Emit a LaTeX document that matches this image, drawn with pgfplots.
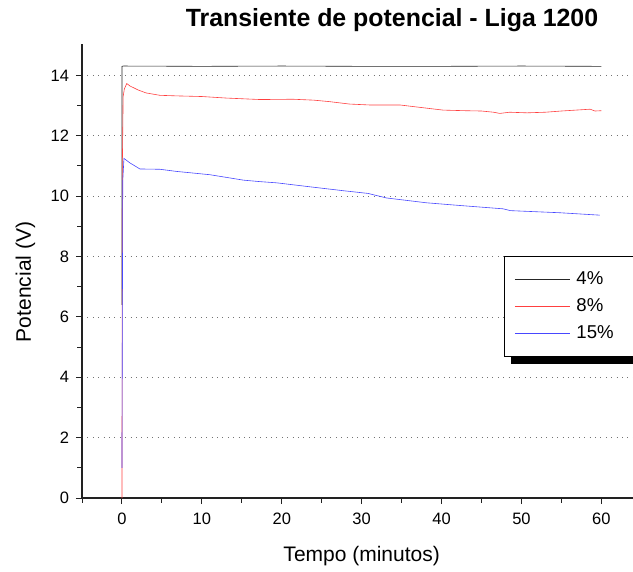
\documentclass[border=0pt]{standalone}
\usepackage{fontspec}
\setmainfont{Liberation Sans}
\usepackage{pgfplots}
\pgfplotsset{compat=1.18}
\definecolor{axisgray}{HTML}{222222}
\definecolor{lred}{HTML}{FF4040}
\definecolor{lblue}{HTML}{4848FF}
\begin{document}
\begin{tikzpicture}
\begin{axis}[
  name=ax,
  scale only axis,
  width=551pt, height=454pt,
  xmin=-5, xmax=63.96,
  ymin=0, ymax=15.04,
  axis x line*=bottom, axis y line*=left,
  axis line style={-, draw=axisgray, line width=1.3pt},
  tick style={draw=axisgray, line width=1pt},
  tick align=outside,
  major tick length=6pt, minor tick length=4.5pt,
  xtick={0,10,...,60}, minor xtick={-5,5,...,55},
  ytick={0,2,...,14}, minor ytick={1,3,...,13},
  ymajorgrids,
  major grid style={draw=black!55, line width=0.7pt, dash pattern=on 0.8pt off 4.6pt},
  /pgf/number format/assume math mode=true,
  ticklabel style={font=\fontsize{16.5}{18}\selectfont},
  xticklabel style={yshift=-5.5pt},
  yticklabel style={xshift=-3.5pt},
  title={\textbf{Transiente de potencial - Liga 1200}},
  title style={font=\fontsize{24.9}{28}\selectfont, at={(axis description cs:0.5626,1.0381)}, anchor=base, yshift=-6pt},
  xlabel={Tempo (minutos)},
  xlabel style={font=\fontsize{21}{24}\selectfont, at={(axis description cs:0.5076,-0.1403)}, anchor=base},
  ylabel={Potencial (V)},
  ylabel style={font=\fontsize{21}{24}\selectfont, at={(axis description cs:-0.0926,0.476)}, anchor=base},
  legend cell align=left,
  legend image code/.code={\draw[#1, line width=0.9pt] (0pt,0pt) -- (55pt,0pt);},
  legend style={name=leg, at={(axis description cs:0.766,0.533)}, anchor=north west,
    draw=black, line width=0.9pt, fill=white,
    font=\fontsize{18.6}{20}\selectfont,
    inner xsep=10pt, inner ysep=14pt,
    row sep=9pt, column sep=3pt,
    nodes={inner xsep=3pt, inner ysep=0pt, text height=14pt, text depth=4pt}},
]
\addplot[black!85, line width=0.6pt] coordinates {
(0,6.4) (0,14.3) (0.2,14.31) (10,14.30) (20,14.31) (30,14.30) (40,14.30) (50,14.31) (60,14.30)};
\addlegendentry{4\%\hspace*{60pt}}
\addplot[lred, line width=0.6pt] coordinates {
(0,0) (0.05,11) (0.15,13.3) (0.3,13.55) (0.6,13.73) (1,13.65) (2,13.52) (3,13.42) (4.75,13.34)
(7,13.32) (10,13.30) (13,13.25) (17.3,13.2) (21.4,13.21) (24,13.18) (26,13.13) (28.5,13.05)
(31,13.02) (34.8,13.02) (37,12.95) (40.2,12.85) (43,12.83) (45,12.82) (46.5,12.78) (47.3,12.74)
(48.5,12.78) (50.7,12.76) (53,12.78) (55,12.82) (58.6,12.88) (59.2,12.82) (60,12.83)};
\addlegendentry{8\%}
\addplot[lblue, line width=0.6pt] coordinates {
(0,1.0) (0.1,10.5) (0.25,11.25) (1,11.1) (2.25,10.9) (4.75,10.89) (6.8,10.82) (11,10.71)
(15.2,10.53) (17.3,10.48) (19.4,10.44) (23.5,10.31) (27.7,10.18) (30.8,10.09) (33.1,9.94)
(38.1,9.78) (42.3,9.69) (47.7,9.58) (48.6,9.52) (54.8,9.45) (59.8,9.37)};
\addlegendentry{15\%}
\end{axis}
\fill[black] ([xshift=7pt,yshift=0.45pt]leg.south west) rectangle ([xshift=7pt,yshift=-7pt]leg.south east);
\pgfresetboundingbox
\useasboundingbox ([xshift=-82pt,yshift=-73pt]ax.south west) rectangle ([yshift=44pt]ax.north east);
\end{tikzpicture}
\end{document}
